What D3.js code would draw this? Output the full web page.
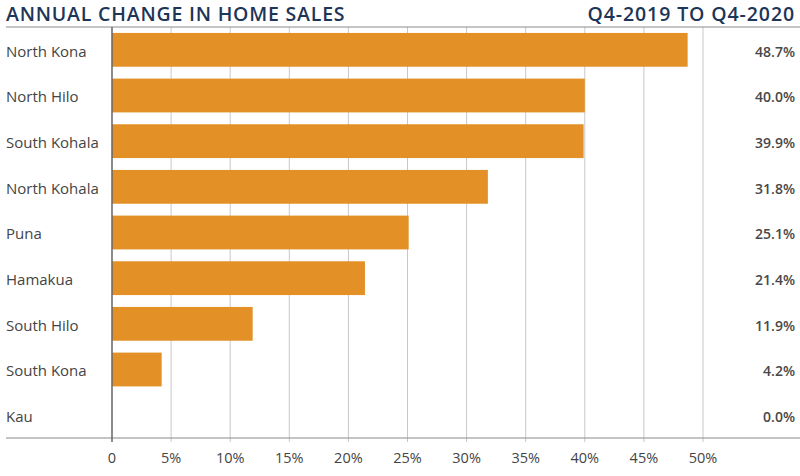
<!DOCTYPE html>
<html><head><meta charset="utf-8">
<script src="https://cdn.jsdelivr.net/npm/d3@7"></script>
<style>body{margin:0;background:#fff;}svg{display:block;}</style>
</head><body>
<svg id="c" width="800" height="476"></svg>
<script>
const categories = ["North Kona","North Hilo","South Kohala","North Kohala","Puna","Hamakua","South Hilo","South Kona","Kau"];
const values = [48.7,40.0,39.9,31.8,25.1,21.4,11.9,4.2,0.0];
const tickValues = [0,5,10,15,20,25,30,35,40,45,50];
const tickLabels = ["0","5%","10%","15%","20%","25%","30%","35%","40%","45%","50%"];
const title = "ANNUAL CHANGE IN HOME SALES";
const subtitle = "Q4-2019 TO Q4-2020";

(function(){
const svg = d3.select("#c");
const font = "'Open Sans', Lato, sans-serif";
const plotTop = 27, plotBottom = 438;
const x = d3.scaleLinear().domain([0,50]).range([112,703]);
const y = d3.scaleBand().domain(categories).range([plotTop,plotBottom]).paddingInner(0.26).paddingOuter(0.13);

svg.append("text").attr("x",6).attr("y",21).text(title)
  .attr("font-family",font).attr("font-weight",600).attr("font-size",19.5)
  .attr("letter-spacing",0.8).attr("fill","#1d3557");
svg.append("text").attr("x",795).attr("y",21).attr("text-anchor","end").text(subtitle)
  .attr("font-family",font).attr("font-weight",600).attr("font-size",19.5)
  .attr("letter-spacing",0.9).attr("fill","#1d3557");

svg.append("g").selectAll("line").data(tickValues.slice(1)).join("line")
  .attr("x1",d=>x(d)).attr("x2",d=>x(d)).attr("y1",plotTop).attr("y2",plotBottom+4)
  .attr("stroke","#c8c8c8").attr("stroke-width",1);

svg.append("line").attr("x1",6).attr("x2",800).attr("y1",plotTop).attr("y2",plotTop).attr("stroke","#8a8a8a").attr("stroke-width",1);
svg.append("line").attr("x1",6).attr("x2",800).attr("y1",plotBottom).attr("y2",plotBottom).attr("stroke","#8a8a8a").attr("stroke-width",1.2);

svg.append("g").selectAll("rect").data(values).join("rect")
  .attr("x",x(0)).attr("y",(d,i)=>y(categories[i]))
  .attr("width",d=>x(d)-x(0)).attr("height",y.bandwidth())
  .attr("fill","#e39027");

svg.append("line").attr("x1",x(0)).attr("x2",x(0)).attr("y1",plotTop).attr("y2",plotBottom+4).attr("stroke","#666").attr("stroke-width",1.5);

svg.append("g").selectAll("text").data(categories).join("text")
  .attr("x",6).attr("y",d=>y(d)+y.bandwidth()/2+1.5).attr("dy","0.35em").text(d=>d)
  .attr("font-family",font).attr("font-size",15).attr("fill","#444");

svg.append("g").selectAll("text").data(values).join("text")
  .attr("x",795).attr("y",(d,i)=>y(categories[i])+y.bandwidth()/2+2).attr("dy","0.35em")
  .attr("text-anchor","end").text(d=>d.toFixed(1)+"%")
  .attr("font-family",font).attr("font-weight",600).attr("font-size",14).attr("fill","#484848");

svg.append("g").selectAll("text").data(tickValues).join("text")
  .attr("x",d=>x(d)).attr("y",463).attr("text-anchor","middle").text((d,i)=>tickLabels[i])
  .attr("font-family",font).attr("font-size",14.5).attr("fill","#444");
})();
</script>
</body></html>
